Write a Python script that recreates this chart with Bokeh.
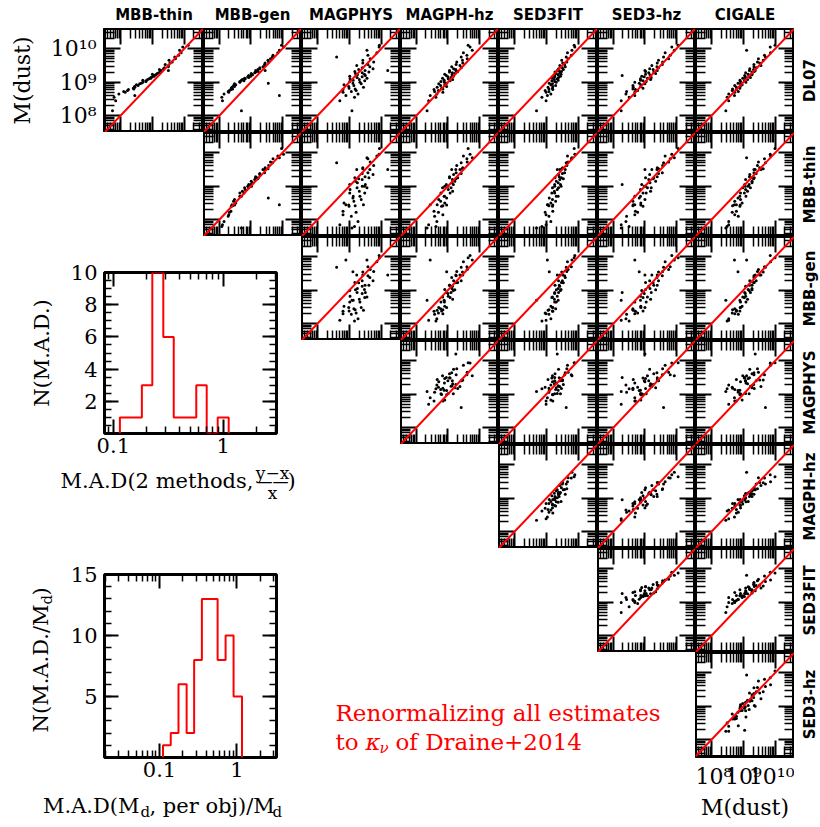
import math
from bokeh.plotting import figure
from bokeh.models import (Range1d, LogAxis, LinearAxis, FixedTicker, Slope,
                          Label, Spacer, CustomJSTickFormatter)
from bokeh.layouts import row, column
from bokeh.embed import file_html
from bokeh.resources import INLINE

# ---------------------------------------------------------------- data
row_methods = ["DL07", "MBB-thin", "MBB-gen", "MAGPHYS", "MAGPH-hz", "SED3FIT", "SED3-hz"]
col_methods = ["MBB-thin", "MBB-gen", "MAGPHYS", "MAGPH-hz", "SED3FIT", "SED3-hz", "CIGALE"]

# log10 dust mass of each object, one list per method (same object order)
logM_DL07 = [8.15, 8.45, 8.55, 8.60, 8.65, 8.70, 8.72, 8.75, 8.78, 8.80, 8.82, 8.85, 8.87,
             8.90, 8.92, 8.95, 8.97, 9.00, 9.02, 9.04, 9.06, 9.08, 9.10, 9.12, 9.14, 9.16,
             9.18, 9.20, 9.22, 9.24, 9.26, 9.28, 9.30, 9.32, 9.35, 9.38, 9.40, 9.43, 9.46,
             9.50, 9.53, 9.57, 9.60, 9.65, 9.70, 9.75, 9.80, 9.88, 9.95, 10.05, 10.10, 9.35]
logM_MBBthin = [7.75, 7.85, 7.80, 8.45, 7.95, 8.15, 8.10, 8.22, 8.25, 8.42, 8.40, 8.45, 8.44,
                8.55, 8.50, 8.60, 8.65, 8.70, 8.80, 8.80, 8.70, 8.85, 8.90, 8.95, 8.95, 9.00,
                9.05, 9.05, 9.10, 9.00, 9.15, 9.20, 9.25, 9.25, 9.28, 9.22, 9.35, 9.38, 9.50,
                9.50, 9.40, 9.55, 9.62, 9.52, 9.72, 9.70, 9.82, 9.90, 9.85, 9.95, 10.12, 9.50]
logM_MBBgen = [8.70, 8.10, 8.08, 9.90, 8.15, 8.30, 8.28, 8.32, 8.37, 8.42, 8.38, 8.40, 8.48,
               8.45, 8.52, 8.48, 9.55, 8.65, 8.65, 8.78, 8.70, 8.73, 8.82, 8.80, 8.93, 8.90,
               8.99, 8.93, 9.05, 9.02, 9.01, 9.12, 9.15, 9.23, 9.15, 9.22, 9.28, 9.28, 9.38,
               9.45, 9.43, 9.45, 9.56, 9.54, 9.62, 9.68, 9.70, 9.85, 9.90, 10.03, 9.97, 9.45]
logM_MAGPHYS = [9.08, 8.70, 9.16, 8.89, 9.27, 8.80, 9.06, 9.21, 8.80, 9.18, 8.99, 9.44, 8.98,
                9.14, 8.83, 9.37, 9.11, 9.33, 9.01, 9.48, 9.12, 9.31, 9.02, 9.55, 9.24, 9.40,
                9.01, 9.50, 9.25, 9.47, 9.19, 9.40, 9.61, 9.17, 9.49, 9.29, 9.74, 9.40, 9.64,
                9.23, 9.58, 9.42, 9.76, 9.42, 9.65, 8.60, 9.58, 9.86, 9.55, 9.93, 9.94, 10.20]
logM_MAGPHhz = [8.34, 8.39, 8.62, 8.44, 8.65, 8.84, 8.58, 8.70, 8.56, 8.84, 8.80, 8.66, 8.96,
                8.77, 8.90, 8.71, 8.96, 8.89, 8.78, 9.07, 8.88, 9.15, 9.01, 8.83, 9.10, 9.00,
                9.17, 8.95, 9.13, 8.90, 9.22, 9.14, 9.05, 9.31, 9.05, 9.25, 9.18, 9.42, 9.12,
                9.38, 9.26, 9.47, 9.28, 9.46, 9.61, 9.42, 9.60, 9.49, 9.77, 9.70, 9.64, 9.25]
logM_SED3FIT = [8.69, 8.99, 8.86, 9.03, 9.14, 8.99, 9.08, 8.96, 9.20, 9.08, 9.19, 9.05, 9.20,
                9.29, 9.14, 9.19, 9.09, 9.31, 9.26, 9.17, 9.37, 9.25, 9.34, 9.19, 9.38, 9.26,
                9.44, 9.26, 9.37, 9.46, 9.31, 9.42, 9.27, 9.47, 9.40, 9.53, 9.38, 9.50, 9.59,
                9.42, 9.57, 9.51, 9.64, 9.48, 9.68, 9.62, 9.78, 9.66, 9.80, 9.89, 9.87, 9.34]
logM_SED3hz = [8.25, 8.25, 8.50, 8.68, 8.40, 8.68, 8.42, 8.77, 8.70, 8.62, 8.94, 8.63, 8.87,
               8.62, 8.87, 9.00, 8.82, 8.68, 9.04, 8.94, 8.86, 9.18, 8.86, 9.08, 9.20, 8.98,
               8.90, 8.28, 9.16, 9.02, 9.34, 9.12, 9.28, 9.02, 9.39, 9.26, 9.15, 9.43, 9.38,
               9.22, 9.55, 9.39, 9.56, 9.43, 9.75, 9.59, 9.80, 9.64, 9.93, 9.85, 10.05, 9.00]
logM_CIGALE = [8.45, 8.54, 8.49, 8.72, 8.54, 8.73, 8.84, 8.65, 8.78, 8.66, 8.89, 8.78, 8.90,
               8.73, 8.96, 8.91, 8.83, 9.08, 8.91, 9.03, 8.89, 9.13, 9.07, 8.98, 9.22, 9.06,
               9.18, 9.04, 9.27, 9.15, 9.27, 9.07, 9.27, 9.34, 9.19, 9.32, 9.20, 9.40, 9.33,
               9.55, 9.33, 9.51, 9.44, 9.62, 9.47, 9.69, 9.66, 9.85, 9.10, 9.84, 9.99, 9.37]

log_mass = {"DL07": logM_DL07, "MBB-thin": logM_MBBthin, "MBB-gen": logM_MBBgen,
            "MAGPHYS": logM_MAGPHYS, "MAGPH-hz": logM_MAGPHhz, "SED3FIT": logM_SED3FIT,
            "SED3-hz": logM_SED3hz, "CIGALE": logM_CIGALE}

mass_log_limits = [7.5, 10.6]
mass_major_ticks = [1e8, 1e9, 1e10]
mass_tick_labels = ["10⁸", "10⁹", "10¹⁰"]

# histogram of M.A.D. between pairs of methods (log10 bin edges, counts)
mad_pair_edges_log = [-0.94, -0.84, -0.74, -0.645, -0.545, -0.45, -0.35, -0.245, -0.15, -0.05, 0.05]
mad_pair_counts = [1, 1, 3, 10, 6, 1, 1, 3, 0, 1]
mad_pair_log_limits = [-1.08, 0.485]
mad_pair_count_limits = [0, 10]
mad_pair_count_ticks = [2, 4, 6, 8, 10]

# histogram of per-object M.A.D./M_d
mad_obj_edges_log = [-0.955, -0.855, -0.755, -0.65, -0.553, -0.453, -0.35, -0.25, -0.147, -0.044, 0.065]
mad_obj_counts = [1, 2, 6, 2, 8, 13, 13, 8, 10, 5]
mad_obj_log_limits = [-1.71, 0.51]
mad_obj_count_limits = [0, 15]
mad_obj_count_ticks = [5, 10, 15]

mad_ticks = [0.1, 1.0]
mad_tick_labels = ["0.1", "1"]

# ---------------------------------------------------------------- style / geometry
SERIF = "DejaVu Serif"
SANS = "DejaVu Sans"
PW = [99, 98, 99, 98, 99, 98, 99]
PH = 104
GRID_LEFT, GRID_TOP = 104, 28
LAYOUT_W = 820
col_left = [GRID_LEFT + sum(PW[:c]) for c in range(7)]
grid_right = col_left[6] + PW[6]
LBL_W = LAYOUT_W - grid_right
BOTTOM_BORDER66 = 66
LOWER_TOP = GRID_TOP + 2 * PH
LOWER_BOTTOM = LOWER_TOP + 5 * PH + BOTTOM_BORDER66
LEFT_W = col_left[2]
YLAB_W = 60
TICK_MAJ, TICK_MIN = 16, 10


def hidden_formatter():
    return CustomJSTickFormatter(code='return "";')


def label_formatter(values, labels):
    return CustomJSTickFormatter(args=dict(tv=list(values), tl=list(labels)), code="""
        for (let i = 0; i < tv.length; i++) {
            if (Math.abs(tv[i] - tick) <= 1e-6 * Math.abs(tv[i])) { return tl[i]; }
        }
        return "";
    """)


def make_axis(log, ticks, minor, major_len, minor_len, fixed=None, labels=None,
              font_size="20px", standoff=7):
    ax = (LogAxis if log else LinearAxis)(ticker=FixedTicker(ticks=list(ticks), minor_ticks=list(minor)))
    ax.axis_line_color = None
    ax.major_tick_in, ax.major_tick_out = major_len, 0
    ax.minor_tick_in, ax.minor_tick_out = minor_len, 0
    ax.major_tick_line_width = 2
    ax.minor_tick_line_width = 1.5
    ax.major_tick_line_color = "black"
    ax.minor_tick_line_color = "black"
    if fixed is not None:
        ax.fixed_location = fixed
        ax.formatter = hidden_formatter()
    else:
        if labels is not None:
            ax.formatter = label_formatter(ticks, labels)
        ax.major_label_text_font = SERIF
        ax.major_label_text_font_size = font_size
        ax.major_label_text_color = "black"
        ax.major_label_standoff = standoff
    return ax


def style_axis_label(ax, text, size, standoff):
    ax.axis_label = text
    ax.axis_label_text_font = SERIF
    ax.axis_label_text_font_size = size
    ax.axis_label_text_font_style = "normal"
    ax.axis_label_text_color = "black"
    ax.axis_label_standoff = standoff


def base_fig(width, height, borders, **kw):
    l, r, t, b = borders
    p = figure(width=width, height=height, toolbar_location=None, output_backend="svg",
               x_axis_location=None, y_axis_location=None,
               min_border_left=l, min_border_right=r, min_border_top=t, min_border_bottom=b, **kw)
    p.grid.visible = False
    p.background_fill_color = "white"
    p.border_fill_color = "white"
    return p


def text_fig(left, top, width, height, border_top=0, border_bottom=0):
    """A figure whose data coordinates are page pixels (y growing downwards)."""
    p = base_fig(width, height, (0, 0, border_top, border_bottom),
                 x_range=Range1d(left, left + width),
                 y_range=Range1d(top + height - border_bottom, top + border_top))
    p.outline_line_color = None
    return p


def put(p, x, y, text, size="20px", align="left", angle=0.0, style="normal",
        color="black", font=SERIF):
    p.add_layout(Label(x=x, y=y, text=text, text_font=font, text_font_size=size,
                       text_align=align, text_baseline="middle", angle=angle,
                       text_font_style=style, text_color=color))


lo_m, hi_m = 10 ** mass_log_limits[0], 10 ** mass_log_limits[1]
minor_mass = [m * 10.0 ** e for e in range(7, 11) for m in range(2, 10) if lo_m < m * 10.0 ** e < hi_m]


def make_panel(r, c):
    left_lab = (r == 0 and c == 0)
    bot_lab = (r == 6 and c == 6)
    bl = GRID_LEFT if left_lab else 0
    bb = BOTTOM_BORDER66 if bot_lab else 0
    p = base_fig(PW[c] + bl, PH + bb, (bl, 0, 0, bb),
                 x_axis_type="log", y_axis_type="log",
                 x_range=Range1d(lo_m, hi_m), y_range=Range1d(lo_m, hi_m))
    p.outline_line_color = "black"
    p.outline_line_width = 3
    xs = [10 ** v for v in log_mass[col_methods[c]]]
    ys = [10 ** v for v in log_mass[row_methods[r]]]
    p.scatter(xs, ys, size=3, color="black", line_width=0)
    p.add_layout(Slope(gradient=1, y_intercept=0, line_color="red", line_width=2))
    if left_lab:
        ax = make_axis(True, mass_major_ticks, minor_mass, TICK_MAJ, TICK_MIN,
                       labels=mass_tick_labels, font_size="22px", standoff=8)
        style_axis_label(ax, "M(dust)", "22px", 13)
    else:
        ax = make_axis(True, mass_major_ticks, minor_mass, TICK_MAJ, TICK_MIN, fixed=lo_m)
    p.add_layout(ax, "left")
    p.add_layout(make_axis(True, mass_major_ticks, minor_mass, TICK_MAJ, TICK_MIN, fixed=hi_m), "right")
    p.add_layout(make_axis(True, mass_major_ticks, minor_mass, TICK_MAJ, TICK_MIN, fixed=hi_m), "above")
    if bot_lab:
        ax = make_axis(True, mass_major_ticks, minor_mass, TICK_MAJ, TICK_MIN,
                       labels=mass_tick_labels, font_size="22px", standoff=7)
        style_axis_label(ax, "M(dust)", "22px", 3)
    else:
        ax = make_axis(True, mass_major_ticks, minor_mass, TICK_MAJ, TICK_MIN, fixed=lo_m)
    p.add_layout(ax, "below")
    return p


def row_label_fig(r, height, border_bottom=0):
    top = GRID_TOP + r * PH
    p = text_fig(grid_right, top, LBL_W, height, border_bottom=border_bottom)
    put(p, grid_right + LBL_W - 11, top + PH / 2, row_methods[r], size="15px",
        align="center", angle=math.pi / 2, style="bold", font=SANS)
    return p


def stairs(edges_log, counts):
    xs, ys = [10 ** edges_log[0]], [0]
    for i, cnt in enumerate(counts):
        xs += [10 ** edges_log[i], 10 ** edges_log[i + 1]]
        ys += [cnt, cnt]
    xs.append(10 ** edges_log[-1])
    ys.append(0)
    return xs, ys


def make_hist(edges_log, counts, log_limits, count_limits, count_ticks, count_minor_step,
              frame_box, canvas_left, canvas_top, canvas_h):
    fl, fr, ft, fb = frame_box
    width = LEFT_W - canvas_left
    borders = (fl - canvas_left, LEFT_W - fr, ft - canvas_top, canvas_top + canvas_h - fb)
    xlo, xhi = 10 ** log_limits[0], 10 ** log_limits[1]
    p = base_fig(width, canvas_h, borders, x_axis_type="log",
                 x_range=Range1d(xlo, xhi), y_range=Range1d(*count_limits))
    p.outline_line_color = "black"
    p.outline_line_width = 3
    xs, ys = stairs(edges_log, counts)
    p.line(xs, ys, line_color="red", line_width=2)
    xminor = [m * 10.0 ** e for e in (-2, -1, 0) for m in range(2, 10) if xlo < m * 10.0 ** e < xhi]
    n = int(round(count_limits[1] / count_minor_step))
    yminor = [k * count_minor_step for k in range(1, n)]
    p.add_layout(make_axis(False, count_ticks, yminor, 14, 7, font_size="21px", standoff=7), "left")
    p.add_layout(make_axis(False, count_ticks, yminor, 14, 7, fixed=xhi), "right")
    p.add_layout(make_axis(True, mad_ticks, xminor, 14, 7, labels=mad_tick_labels,
                           font_size="21px", standoff=4), "below")
    p.add_layout(make_axis(True, mad_ticks, xminor, 14, 7, fixed=count_limits[1]), "above")
    return p


# ---------------------------------------------------------------- header
header = text_fig(0, 0, LAYOUT_W, GRID_TOP)
for c, name in enumerate(col_methods):
    put(header, col_left[c] + PW[c] / 2, 14, name, size="15px",
        align="center", style="bold", font=SANS)

# ---------------------------------------------------------------- panel rows
panels = {(r, c): make_panel(r, c) for r in range(7) for c in range(r, 7)}

row0 = row([panels[(0, c)] for c in range(7)] + [row_label_fig(0, PH)])
row1 = row([Spacer(width=col_left[1], height=PH)] + [panels[(1, c)] for c in range(1, 7)]
           + [row_label_fig(1, PH)])

right_rows = []
for r in range(2, 6):
    kids = []
    if r > 2:
        kids.append(Spacer(width=col_left[r] - col_left[2], height=PH))
    kids += [panels[(r, c)] for c in range(r, 7)]
    kids.append(row_label_fig(r, PH))
    right_rows.append(row(kids))

# last row: red note + last panel (all with the same bottom border)
row6_top = GRID_TOP + 6 * PH
note = text_fig(col_left[2], row6_top, col_left[6] - col_left[2], PH + BOTTOM_BORDER66,
                border_bottom=BOTTOM_BORDER66)
put(note, 335, 712, "Renormalizing all estimates", size="23px", color="red")
put(note, 335, 741, "to", size="23px", color="red")
put(note, 365, 741, "κ", size="23px", color="red", style="italic")
put(note, 379, 747, "ν", size="15px", color="red", style="italic")
put(note, 395, 741, "of Draine+2014", size="23px", color="red")
right_rows.append(row([note, panels[(6, 6)],
                       row_label_fig(6, PH + BOTTOM_BORDER66, border_bottom=BOTTOM_BORDER66)]))
right_col = column(right_rows)

# ---------------------------------------------------------------- histograms
H1_BOTTOM = 462
h1_box = (104, 276, 272, 433)
h1 = make_hist(mad_pair_edges_log, mad_pair_counts, mad_pair_log_limits,
               mad_pair_count_limits, mad_pair_count_ticks, 0.5, h1_box,
               YLAB_W, LOWER_TOP, H1_BOTTOM - LOWER_TOP)
h1y = text_fig(0, LOWER_TOP, YLAB_W, H1_BOTTOM - LOWER_TOP,
               border_top=h1_box[2] - LOWER_TOP, border_bottom=H1_BOTTOM - h1_box[3])
put(h1y, 41, (h1_box[2] + h1_box[3]) / 2, "N(M.A.D.)", size="21px", align="center",
    angle=math.pi / 2)

H1X_BOTTOM = 505
h1x = text_fig(0, H1_BOTTOM, LEFT_W, H1X_BOTTOM - H1_BOTTOM)
put(h1x, 253, 480, "M.A.D(2 methods,", size="21px", align="right")
put(h1x, 272, 472, "y−x", size="17px", align="center")
put(h1x, 272, 481, "——", size="16px", align="center")
put(h1x, 272, 492, "x", size="17px", align="center")
put(h1x, 287, 480, ")", size="21px")

H2_BOTTOM = 788
h2_box = (104, 276, 574, 757)
h2 = make_hist(mad_obj_edges_log, mad_obj_counts, mad_obj_log_limits,
               mad_obj_count_limits, mad_obj_count_ticks, 1.0, h2_box,
               YLAB_W, H1X_BOTTOM, H2_BOTTOM - H1X_BOTTOM)
h2y = text_fig(0, H1X_BOTTOM, YLAB_W, H2_BOTTOM - H1X_BOTTOM,
               border_top=h2_box[2] - H1X_BOTTOM, border_bottom=H2_BOTTOM - h2_box[3])
put(h2y, 40, 604, "N(M.A.D./M", size="21px", align="right", angle=math.pi / 2)
put(h2y, 46, 604, "d", size="15px", align="left", angle=math.pi / 2)
put(h2y, 40, 595, ")", size="21px", align="left", angle=math.pi / 2)

h2x = text_fig(0, H2_BOTTOM, LEFT_W, LOWER_BOTTOM - H2_BOTTOM)
x0 = 139
put(h2x, x0, 805, "M.A.D(M", size="21px", align="right")
put(h2x, x0 + 1, 811, "d", size="15px")
put(h2x, x0 + 10, 805, ", per obj)/M", size="21px")
put(h2x, x0 + 133, 811, "d", size="15px")

left_col = column([row([h1y, h1]), row([h1x]), row([h2y, h2]), row([h2x])])
lower = row([left_col, right_col])

layout = column([header, row0, row1, lower])

with open("out.html", "w") as f:
    f.write(file_html(layout, INLINE, "dust masses"))
